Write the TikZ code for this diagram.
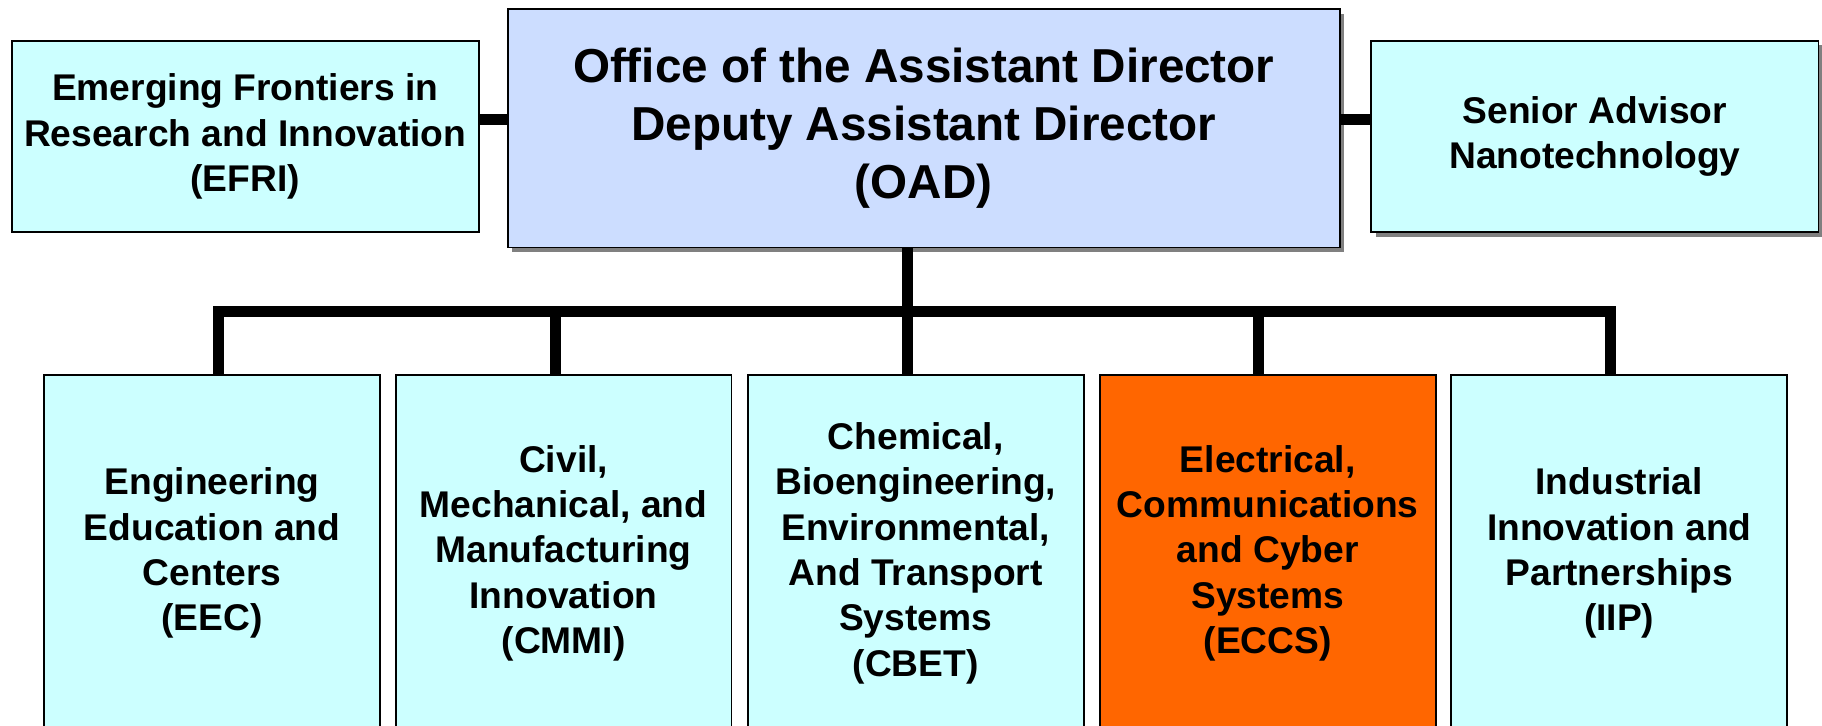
\documentclass[tikz,border=0pt]{standalone}
\usepackage{fontspec}
\setmainfont{Liberation Sans}
\usetikzlibrary{shadows}
\definecolor{cyanfill}{RGB}{204,255,255}
\definecolor{oadfill}{RGB}{204,221,255}
\definecolor{eccsfill}{RGB}{255,102,0}
\definecolor{shadowgray}{RGB}{128,128,128}
\begin{document}
\begin{tikzpicture}[x=1pt,y=-1pt,
  box/.style={draw=black, line width=1.6pt, align=center, inner sep=0pt,
    font=\bfseries\fontsize{32}{39}\selectfont},
  bigbox/.style={box, font=\bfseries\fontsize{41}{50}\selectfont},
  shad/.style={drop shadow={shadow xshift=4pt, shadow yshift=-4pt, fill=shadowgray, opacity=1}},
  topbox/.style={box, fill=cyanfill, minimum width=402pt, minimum height=165pt},
  lowbox/.style={box, fill=cyanfill, minimum width=289pt, minimum height=306pt},
  conn/.style={line width=9pt, line join=miter}]
\clip (0,0) rectangle (1568,624);
\fill[white] (0,0) rectangle (1568,624);
% top row
\node[bigbox, fill=oadfill, shad, minimum width=716pt, minimum height=205pt] (oad) at (795,110.5)
  {Office of the Assistant Director\\Deputy Assistant Director\\(OAD)};
\node[topbox] (efri) at (211,117.5) {Emerging Frontiers in\\Research and Innovation\\(EFRI)};
\node[topbox, shad, minimum width=385pt] (sen) at (1372.5,117.5) {Senior Advisor\\Nanotechnology};
% bottom row
\node[lowbox] (eec)  at (182.5,476) {Engineering\\Education and\\Centers\\(EEC)};
\node[lowbox] (cmmi) at (485,476) {Civil,\\Mechanical, and\\Manufacturing\\Innovation\\(CMMI)};
\node[lowbox] (cbet) at (788,476) {Chemical,\\Bioengineering,\\Environmental,\\And Transport\\Systems\\(CBET)};
\node[lowbox, fill=eccsfill] (eccs) at (1091,476) {Electrical,\\Communications\\and Cyber\\Systems\\(ECCS)};
\node[lowbox] (iip)  at (1393.5,476) {Industrial\\Innovation and\\Partnerships\\(IIP)};
% connector coordinates
\coordinate (sidey) at (0,103);
\coordinate (b1) at (188,268);
\coordinate (b2) at (478,268);
\coordinate (b3) at (781,268);
\coordinate (b4) at (1083,268);
\coordinate (b5) at (1386,268);
% connectors
\draw[conn] (efri.east |- sidey) -- (oad.west |- sidey);
\draw[conn] (oad.east |- sidey) -- (sen.west |- sidey);
\draw[conn] (oad.south -| b3) -- (b3);
\draw[conn] (eec.north -| b1) -- (b1) -- (b5) -- (iip.north -| b5);
\draw[conn] (b2) -- (cmmi.north -| b2);
\draw[conn] (b3) -- (cbet.north -| b3);
\draw[conn] (b4) -- (eccs.north -| b4);
\end{tikzpicture}
\end{document}
